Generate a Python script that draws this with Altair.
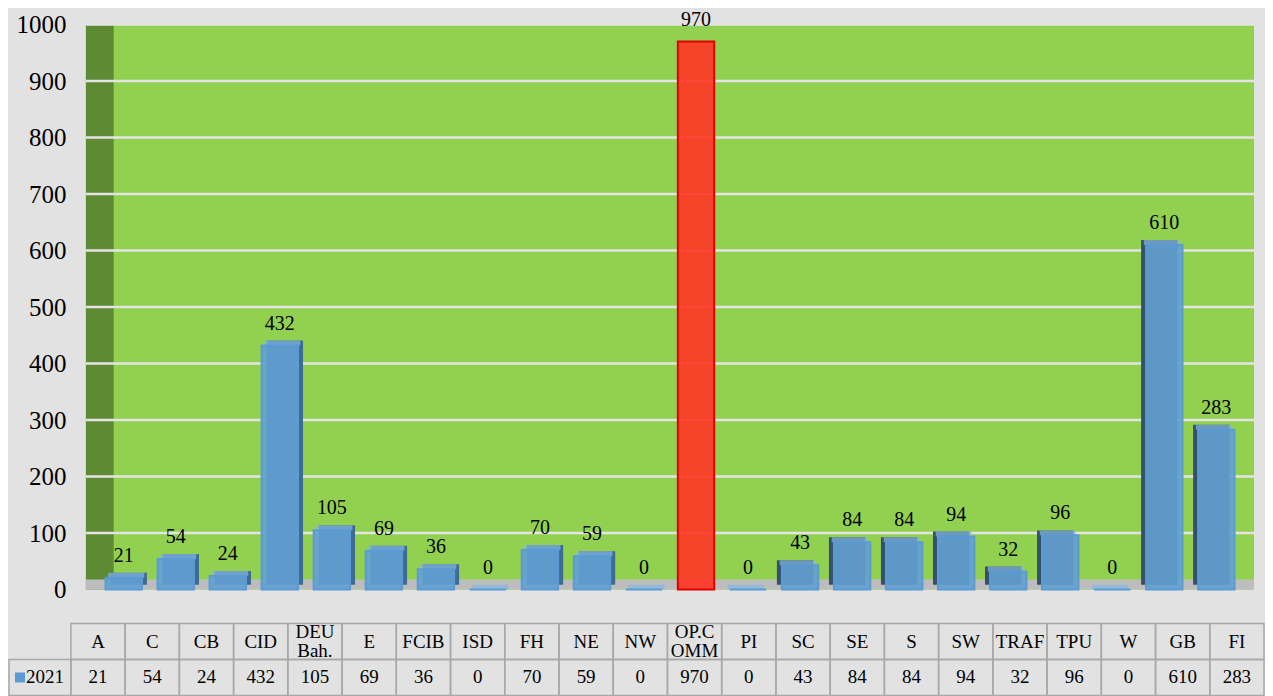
import altair as alt
import pandas as pd

# ---------------- data ----------------
cats = ["A", "C", "CB", "CID", "DEU Bah.", "E", "FCIB", "ISD", "FH", "NE", "NW",
        "OP.COMM", "PI", "SC", "SE", "S", "SW", "TRAF", "TPU", "W", "GB", "FI"]
vals = [21, 54, 24, 432, 105, 69, 36, 0, 70, 59, 0,
        970, 0, 43, 84, 84, 94, 32, 96, 0, 610, 283]
header_labels = ["A", "C", "CB", "CID", "DEU\nBah.", "E", "FCIB", "ISD", "FH", "NE", "NW",
                 "OP.C\nOMM", "PI", "SC", "SE", "S", "SW", "TRAF", "TPU", "W", "GB", "FI"]
y_ticks = [0, 100, 200, 300, 400, 500, 600, 700, 800, 900, 1000]
series_name = "2021"
highlight_cat = "OP.COMM"

FONT = "Liberation Serif"
BLUE = "#5B9BD5"
BG = "#E2E2E2"

hi = cats.index(highlight_cat)
bar_df = pd.DataFrame({"cat": cats, "val": vals})
bar_df["side"] = ["right" if i < hi else ("left" if i > hi else "none") for i in range(len(cats))]
grid_df = pd.DataFrame({"g": y_ticks[1:]})
wall_df = pd.DataFrame({"top": [y_ticks[-1]], "bottom": [y_ticks[0]]})

# plot-area geometry (pixels)
W1, H1 = 1185, 566
GAP, WALL = 15, 28          # grey gap before the side wall, side wall depth
LEG_W = 62                  # legend column of the data table
DEPTH = 5                   # 3-D depth of the bars

yscale = alt.Scale(domain=[y_ticks[0], y_ticks[-1]], nice=False, zero=True)
xscale = alt.Scale(domain=cats, paddingInner=0.3, paddingOuter=0.52, align=0.64)
xenc = alt.X("cat:N", sort=cats, scale=xscale, axis=None)

yaxis = alt.Axis(values=y_ticks, title=None, domain=False, ticks=False, grid=False, format="d",
                 labelFont=FONT, labelFontSize=25, labelFontWeight="normal", labelColor="black",
                 labelPadding=5, minExtent=LEG_W)


def Y(field):
    return alt.Y(field, scale=yscale, axis=yaxis, title=None)


back_wall = alt.Chart(wall_df).mark_rect(color="#92D050").encode(
    x=alt.value(GAP + WALL), x2=alt.value(W1), y=Y("top:Q"), y2="bottom:Q")

left_wall = alt.Chart(wall_df).mark_rect(color="#5E8A33").encode(
    x=alt.value(GAP), x2=alt.value(GAP + WALL), y=Y("top:Q"), y2="bottom:Q")

floor = alt.Chart(wall_df).mark_rect(color="#BDBDBD").encode(
    x=alt.value(GAP), x2=alt.value(W1), y=Y("bottom:Q"), y2=alt.datum(18))

grid = alt.Chart(grid_df).mark_rule(color="#E4E4E4", strokeWidth=2.5).encode(
    x=alt.value(GAP), x2=alt.value(W1), y=Y("g:Q"))

right_df = bar_df[bar_df.side == "right"]
left_df = bar_df[bar_df.side == "left"]

shadow_r = alt.Chart(right_df).mark_bar(
    color="#3D6B94", xOffset=DEPTH, yOffset=-DEPTH).encode(x=xenc, y=Y("val:Q"))
shadow_l = alt.Chart(left_df).mark_bar(
    color="#34506A", xOffset=-DEPTH, yOffset=-DEPTH).encode(x=xenc, y=Y("val:Q"))
topface_r = alt.Chart(right_df).mark_tick(
    color="#86B8E4", thickness=DEPTH, size=36, xOffset=DEPTH / 2, yOffset=-DEPTH / 2).encode(
    x=xenc, y=Y("val:Q"))
topface_l = alt.Chart(left_df).mark_tick(
    color="#86B8E4", thickness=DEPTH, size=36, xOffset=-DEPTH / 2, yOffset=-DEPTH / 2).encode(
    x=xenc, y=Y("val:Q"))

is_hi = alt.datum.cat == highlight_cat
bars = alt.Chart(bar_df).mark_bar(strokeWidth=2, fillOpacity=0.9).encode(
    x=xenc, y=Y("val:Q"),
    fill=alt.condition(is_hi, alt.value("#FF3322"), alt.value("#62A0D2")),
    stroke=alt.condition(is_hi, alt.value("#E00000"), alt.value(BLUE)))

labels = alt.Chart(bar_df).mark_text(
    font=FONT, fontSize=20, color="black", baseline="bottom", dy=-12).encode(
    x=xenc, y=Y("val:Q"), text="val:Q")

top = alt.layer(back_wall, left_wall, floor, grid, shadow_r, shadow_l, topface_r, topface_l,
                bars, labels).properties(
    width=W1, height=H1, view=alt.ViewBackground(strokeWidth=0))

# ---------------- data table ----------------
rows = []
for c, h, v in zip(cats, header_labels, vals):
    parts = h.split("\n")
    if len(parts) == 1:
        rows.append({"cat": c, "row": "h", "txt": parts[0], "kind": "one"})
    else:
        rows.append({"cat": c, "row": "h", "txt": parts[0], "kind": "l1"})
        rows.append({"cat": c, "row": "h", "txt": parts[1], "kind": "l2"})
    rows.append({"cat": c, "row": "v", "txt": str(v), "kind": "one"})
table_df = pd.DataFrame(rows)
cell_df = pd.DataFrame([{"cat": c, "row": r} for c in cats for r in ["h", "v"]])

row_scale = alt.Scale(domain=["h", "v"], paddingInner=0, paddingOuter=0)
tx = alt.X("cat:N", sort=cats, axis=None, scale=alt.Scale(domain=cats, paddingInner=0, paddingOuter=0))
ty = alt.Y("row:N", axis=None, scale=row_scale)

cells = alt.Chart(cell_df).mark_rect(fill="#FFFFFF", fillOpacity=0, stroke="#A8A8A8",
                                     strokeWidth=1.5).encode(x=tx, y=ty)
tstyle = dict(font=FONT, fontSize=19, color="black")
t_one = alt.Chart(table_df[table_df.kind == "one"]).mark_text(**tstyle).encode(x=tx, y=ty, text="txt:N")
t_l1 = alt.Chart(table_df[table_df.kind == "l1"]).mark_text(dy=-9.5, **tstyle).encode(x=tx, y=ty, text="txt:N")
t_l2 = alt.Chart(table_df[table_df.kind == "l2"]).mark_text(dy=9.5, **tstyle).encode(x=tx, y=ty, text="txt:N")

# legend cell ("■ 2021") to the left of the table
leg_df = pd.DataFrame({"row": ["v"], "name": [series_name]})
lcell = alt.Chart(leg_df).mark_rect(fill="#FFFFFF", fillOpacity=0, stroke="#A8A8A8", strokeWidth=1.5).encode(
    x=alt.value(-LEG_W), x2=alt.value(0), y=ty)
lsq = alt.Chart(leg_df).mark_square(color=BLUE, size=100, opacity=1).encode(
    x=alt.value(-LEG_W + 11), y=ty)
ltxt = alt.Chart(leg_df).mark_text(font=FONT, fontSize=19, color="black", align="right").encode(
    x=alt.value(-7), y=ty, text="name:N")

table = alt.layer(cells, t_one, t_l1, t_l2, lcell, lsq, ltxt).properties(
    width=1195, height=72, view=alt.ViewBackground(strokeWidth=0))

chart = alt.vconcat(top, table, spacing=20).properties(
    padding=0, background=BG).configure_view(strokeWidth=0).configure_axis(labelFont=FONT)

chart.save("out.html", embed_options={"renderer": "svg", "actions": False})
